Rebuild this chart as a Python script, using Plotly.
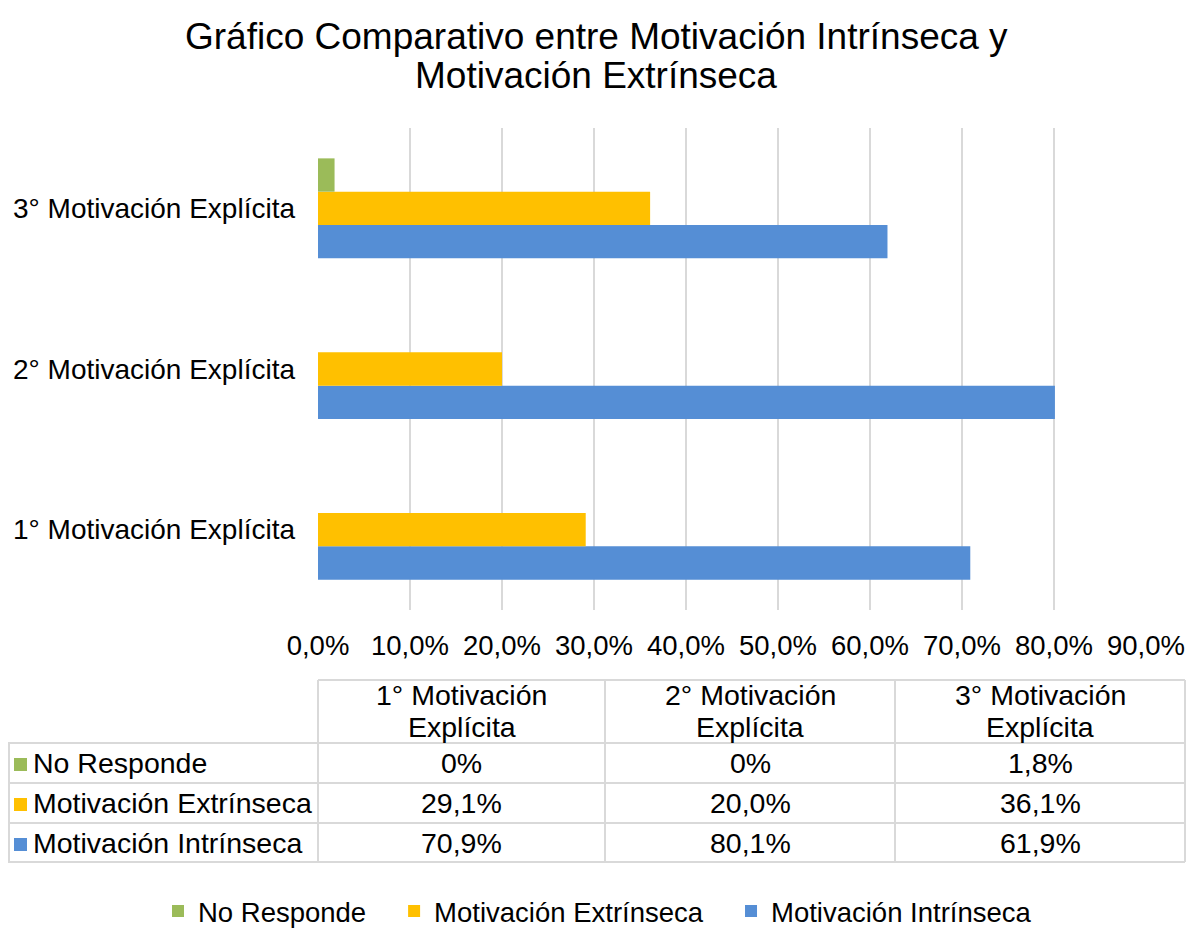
import plotly.graph_objects as go

# datos
categorias = ['1° Motivación Explícita', '2° Motivación Explícita', '3° Motivación Explícita']
series = ['Motivación Intrínseca', 'Motivación Extrínseca', 'No Responde']
intrinseca = [70.9, 80.1, 61.9]
extrinseca = [29.1, 20.0, 36.1]
no_responde = [0, 0, 1.8]
colores = ['#558ED5', '#FFC000', '#9BBB59']
x_ticks = [0, 10, 20, 30, 40, 50, 60, 70, 80, 90]
titulo = ['Gráfico Comparativo entre Motivación Intrínseca y', 'Motivación Extrínseca']

FUENTE = 'Liberation Sans, Arial, sans-serif'
W, H = 1188, 929
L, R, T, B = 318, 1146, 128, 610   # area de trazado en pixeles


def px(x):
    return (x - L) / (R - L)


def py(y):
    return (B - y) / (B - T)


def fmt(v):
    if v == 0:
        return '0%'
    return f'{v:.1f}%'.replace('.', ',')


valores = [intrinseca, extrinseca, no_responde]
espacio = '&nbsp;' * 3

fig = go.Figure()
for i, (nombre, vals, col) in enumerate(zip(series, valores, colores)):
    fig.add_trace(go.Bar(
        y=categorias,
        x=[v / 100 for v in vals],
        name=nombre + (espacio if i > 0 else ''),
        orientation='h',
        marker=dict(color=col, line=dict(width=0)),
        hovertemplate='%{y}: %{x:.1%}<extra>' + nombre + '</extra>'
    ))

# tabla de datos bajo el grafico
shapes = []
linea = dict(color='#D9D9D9', width=2)
cols_px = [318, 605, 895, 1185]
filas_px = [680, 743, 783, 823, 862]

shapes.append(dict(type='line', xref='paper', yref='paper',
                   x0=px(318), x1=px(1185), y0=py(680), y1=py(680), line=linea))
for yy in filas_px[1:]:
    shapes.append(dict(type='line', xref='paper', yref='paper',
                       x0=px(8), x1=px(1185), y0=py(yy), y1=py(yy), line=linea))
for xx in cols_px:
    shapes.append(dict(type='line', xref='paper', yref='paper',
                       x0=px(xx), x1=px(xx), y0=py(680), y1=py(862), line=linea))
shapes.append(dict(type='line', xref='paper', yref='paper',
                   x0=px(9), x1=px(9), y0=py(743), y1=py(862), line=linea))

anots = []
# titulo en dos lineas
for yy, txt in zip([36, 76], titulo):
    anots.append(dict(xref='paper', yref='paper', x=px(596), y=py(yy), text=txt,
                      showarrow=False, font=dict(size=37, color='black', family=FUENTE),
                      xanchor='center', yanchor='middle'))

centros_x = [(cols_px[i] + cols_px[i + 1]) / 2 for i in range(3)]
for cx, cat in zip(centros_x, categorias):
    a, b = cat.rsplit(' ', 1)
    for yy, txt in zip([695, 727], [a, b]):
        anots.append(dict(xref='paper', yref='paper', x=px(cx), y=py(yy),
                          text=txt, showarrow=False,
                          font=dict(size=28.5, color='black', family=FUENTE),
                          xanchor='center', yanchor='middle'))

# filas en el orden de la tabla: No Responde, Extrinseca, Intrinseca
orden = [2, 1, 0]
centros_y = [763, 803, 843]
for cy, idx in zip(centros_y, orden):
    shapes.append(dict(type='rect', xref='paper', yref='paper',
                       x0=px(14), x1=px(27), y0=py(cy - 5), y1=py(cy + 8),
                       fillcolor=colores[idx], line=dict(width=0)))
    anots.append(dict(xref='paper', yref='paper', x=px(31), y=py(cy),
                      text=series[idx], showarrow=False,
                      font=dict(size=28.5, color='black', family=FUENTE),
                      xanchor='left', yanchor='middle'))
    for cx, v in zip(centros_x, valores[idx]):
        anots.append(dict(xref='paper', yref='paper', x=px(cx), y=py(cy),
                          text=fmt(v), showarrow=False,
                          font=dict(size=28.5, color='black', family=FUENTE),
                          xanchor='center', yanchor='middle'))

fig.update_layout(
    width=W, height=H,
    margin=dict(l=L, r=W - R, t=T, b=H - B, pad=0, autoexpand=False),
    paper_bgcolor='white', plot_bgcolor='white',
    separators=',.',
    font=dict(family=FUENTE, size=28, color='black'),
    barmode='group', bargap=0.378, bargroupgap=0,
    showlegend=True,
    legend=dict(orientation='h', traceorder='reversed',
                x=px(158), xanchor='left', y=py(911), yanchor='middle',
                font=dict(size=27.5, color='black', family=FUENTE),
                itemwidth=30, bgcolor='rgba(0,0,0,0)'),
    shapes=shapes,
    annotations=anots,
)

fig.update_xaxes(range=[0, 0.9], tickvals=[t / 100 for t in x_ticks], tickformat='.1%',
                 showgrid=True, gridcolor='#D9D9D9', gridwidth=2, zeroline=False,
                 showline=False, ticks='', ticklabelstandoff=16, automargin=False,
                 tickfont=dict(size=27.5, color='black'), fixedrange=True)
fig.update_yaxes(showgrid=False, zeroline=False, showline=False, ticks='',
                 ticklabelstandoff=22, automargin=False,
                 tickfont=dict(size=28, color='black'), fixedrange=True)

# quitar el margen por defecto del body para que la figura ocupe toda la ventana
fig.write_html('out.html', config={'displayModeBar': False},
               post_script="document.body.style.margin='0px';")
